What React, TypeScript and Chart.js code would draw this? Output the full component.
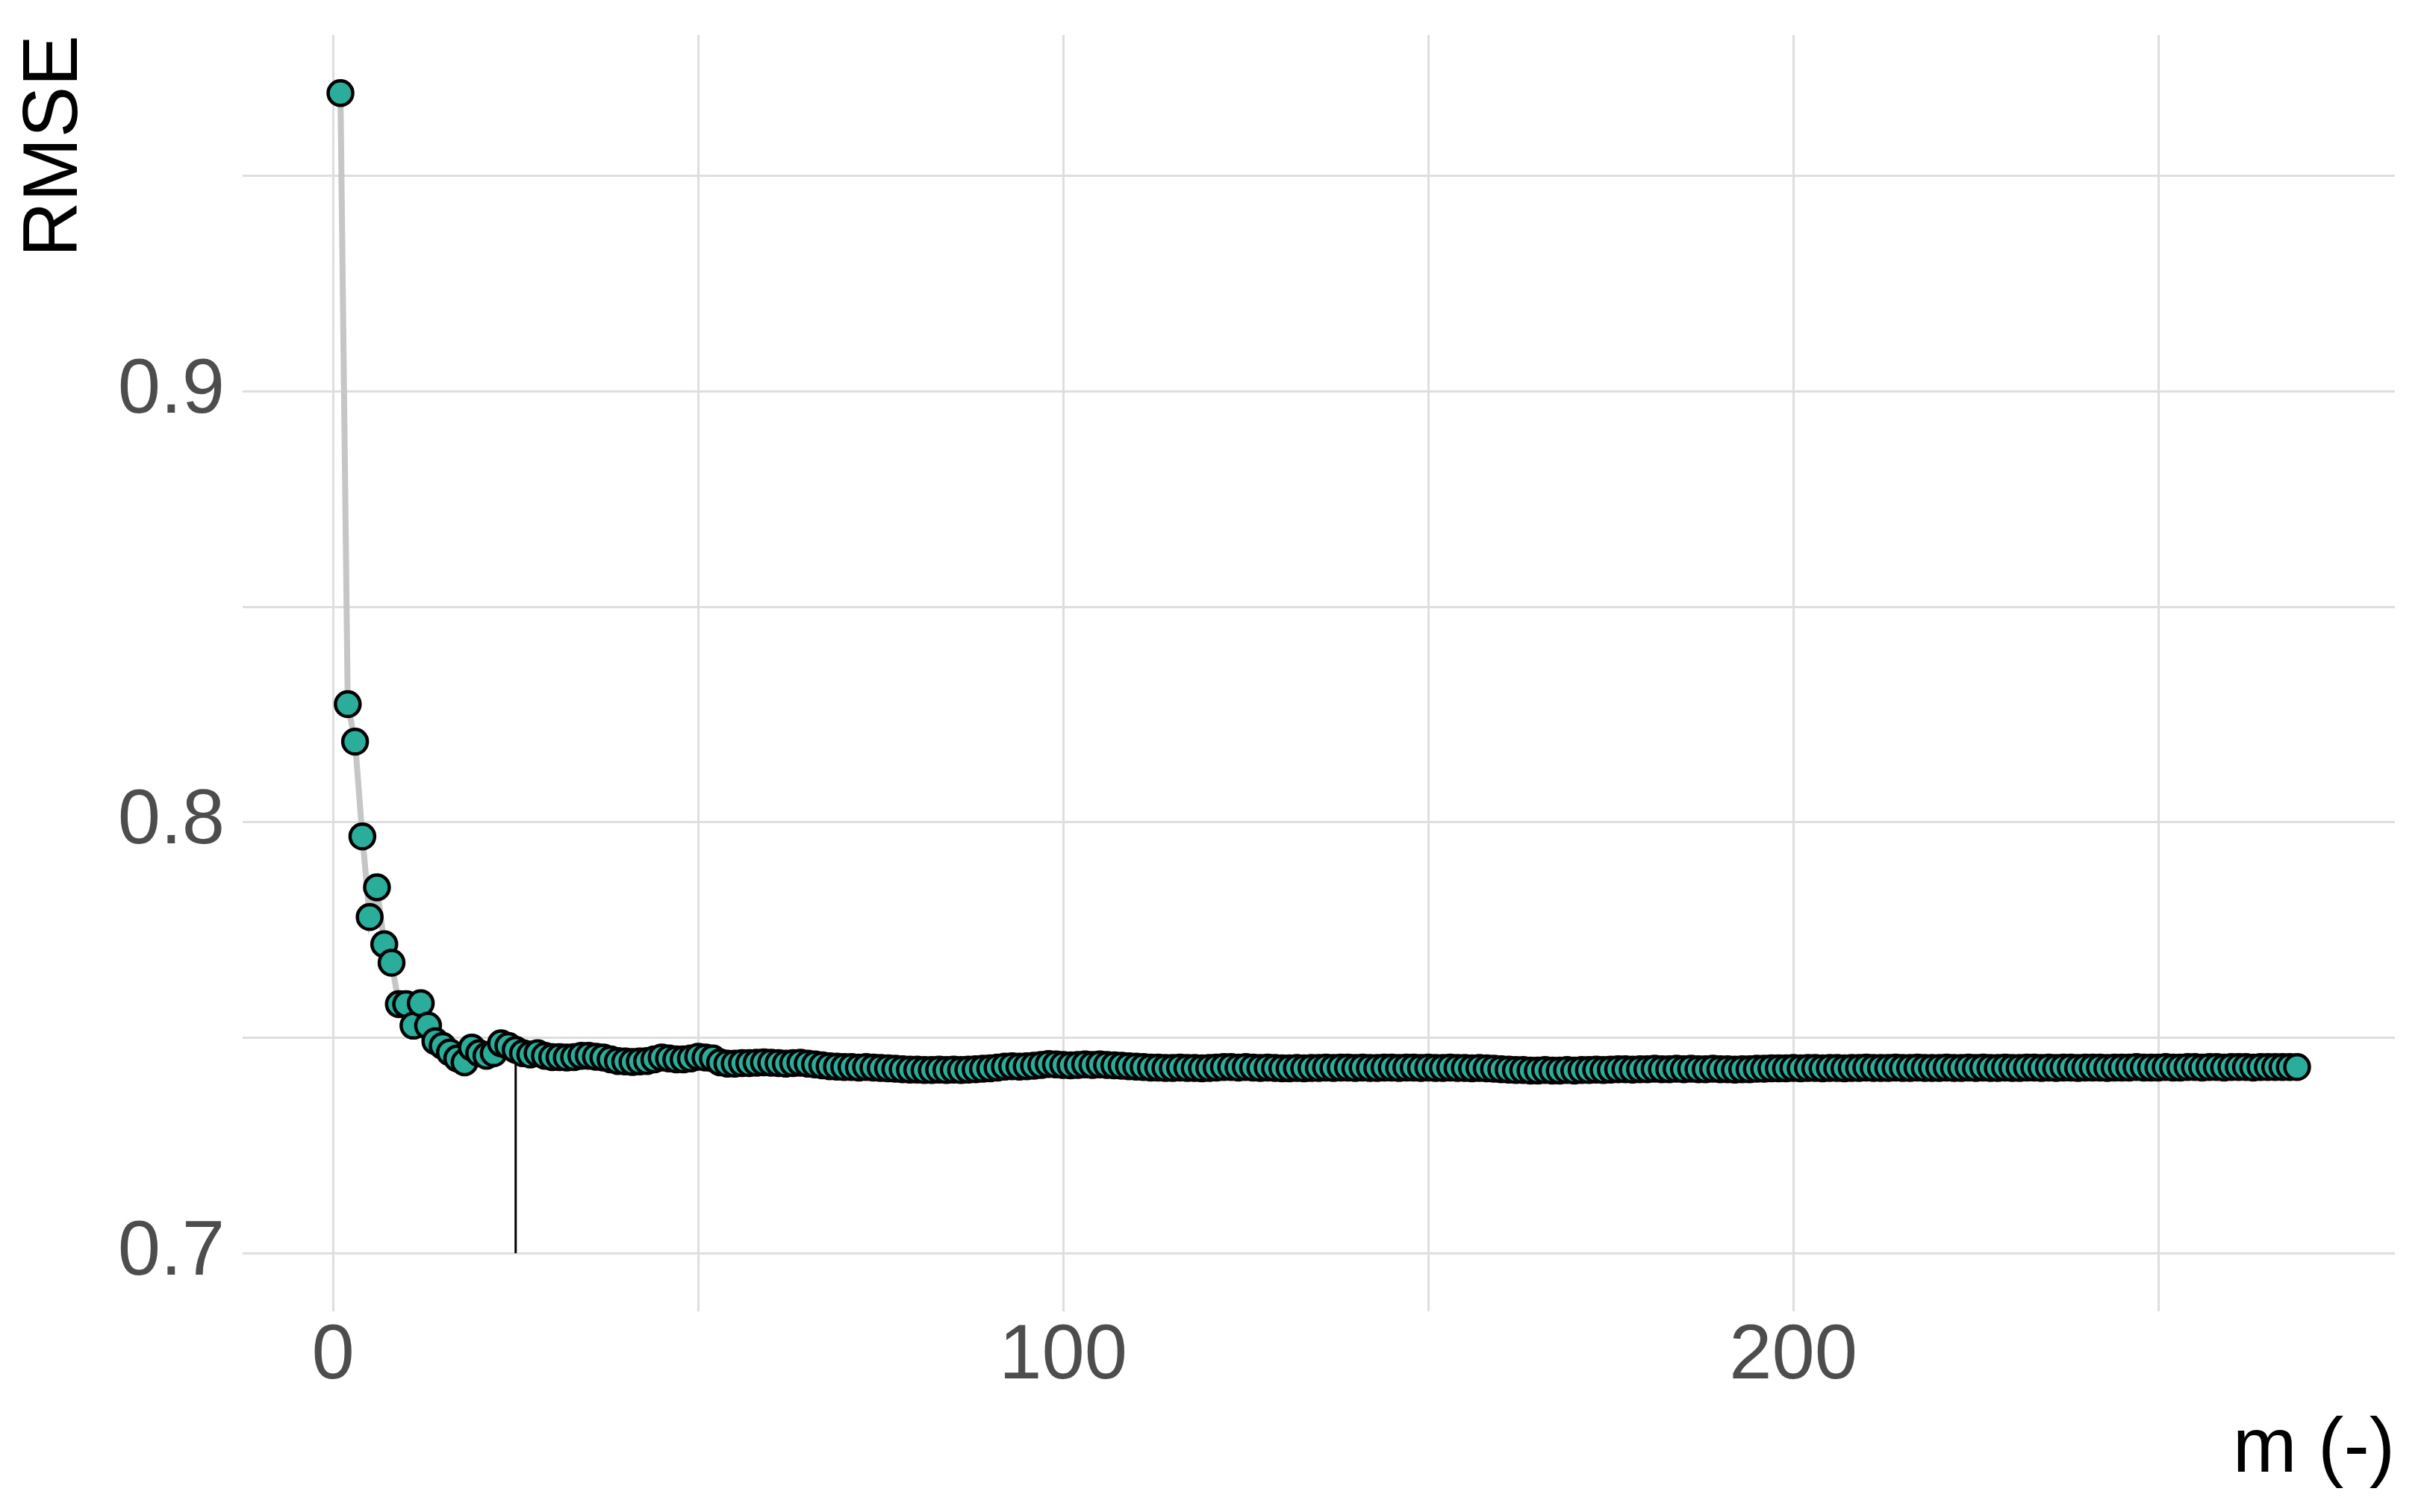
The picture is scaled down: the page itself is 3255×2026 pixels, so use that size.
import React, { useEffect, useRef } from 'react';
import { Chart, registerables } from 'chart.js';

Chart.register(...registerables);

// RMSE for m = 1 .. 269
const rmse: number[] = [
  0.9692, 0.8274, 0.8187, 0.7967, 0.7780, 0.7849, 0.7717, 0.7674, 0.7578, 0.7578,
  0.7528, 0.7580, 0.7528, 0.7492, 0.7481, 0.7466, 0.7452, 0.7443, 0.7477, 0.7464,
  0.7458, 0.7464, 0.7487, 0.7481, 0.7472, 0.7464, 0.7461, 0.7464, 0.7458, 0.7455,
  0.7455, 0.7454, 0.7455, 0.7458, 0.7458, 0.7456, 0.7454, 0.7450, 0.7446, 0.7445,
  0.7444, 0.7445, 0.7446, 0.7450, 0.7454, 0.7452, 0.7450, 0.7450, 0.7452, 0.7456,
  0.7454, 0.7452, 0.7443, 0.7440,
  0.7440, 0.7441, 0.7441, 0.7442, 0.7443, 0.7442, 0.7441, 0.7440, 0.7441, 0.7442,
  0.7440, 0.7438, 0.7436, 0.7434, 0.7433, 0.7432, 0.7432, 0.7431, 0.7432, 0.7431,
  0.7430, 0.7429, 0.7428, 0.7427, 0.7426, 0.7426, 0.7425, 0.7425, 0.7426, 0.7425,
  0.7426, 0.7425, 0.7426, 0.7427, 0.7428, 0.7429, 0.7431, 0.7433, 0.7434, 0.7433,
  0.7434, 0.7435, 0.7437, 0.7439, 0.7438, 0.7437, 0.7436, 0.7437, 0.7438, 0.7437,
  0.7438, 0.7437, 0.7436, 0.7435, 0.7434, 0.7433, 0.7432, 0.7431, 0.7431, 0.7430,
  0.7430, 0.7431, 0.7430, 0.7430, 0.7429, 0.7430, 0.7431, 0.7432, 0.7432, 0.7431,
  0.7432, 0.7431, 0.7430, 0.7431, 0.7430, 0.7429, 0.7429, 0.7430, 0.7429, 0.7430,
  0.7430, 0.7431, 0.7430, 0.7431, 0.7431, 0.7430, 0.7431, 0.7430, 0.7430, 0.7431,
  0.7431, 0.7430, 0.7431, 0.7431, 0.7430, 0.7431, 0.7430, 0.7430, 0.7431, 0.7430,
  0.7430, 0.7429, 0.7430, 0.7429, 0.7428, 0.7427, 0.7426, 0.7425, 0.7425, 0.7424,
  0.7424, 0.7425, 0.7424, 0.7424, 0.7425, 0.7424, 0.7425, 0.7425, 0.7426, 0.7425,
  0.7426, 0.7427, 0.7427, 0.7426, 0.7427, 0.7427, 0.7428, 0.7427, 0.7427, 0.7428,
  0.7427, 0.7428, 0.7427, 0.7427, 0.7428, 0.7427, 0.7427, 0.7426, 0.7427, 0.7427,
  0.7428, 0.7428, 0.7429, 0.7429, 0.7429, 0.7430, 0.7429, 0.7430, 0.7430, 0.7429,
  0.7430, 0.7430, 0.7429, 0.7430, 0.7430, 0.7431, 0.7430, 0.7430, 0.7430, 0.7431,
  0.7430, 0.7430, 0.7431, 0.7430, 0.7430, 0.7430, 0.7431, 0.7430, 0.7430, 0.7431,
  0.7430, 0.7431, 0.7430, 0.7430, 0.7431, 0.7430, 0.7430, 0.7431, 0.7431, 0.7430,
  0.7431, 0.7430, 0.7431, 0.7431, 0.7430, 0.7431, 0.7431, 0.7431, 0.7430, 0.7431,
  0.7431, 0.7431, 0.7432, 0.7431, 0.7431, 0.7431, 0.7432, 0.7431, 0.7431, 0.7432,
  0.7432, 0.7431, 0.7432, 0.7432, 0.7431, 0.7432, 0.7432, 0.7432, 0.7431, 0.7432,
  0.7432, 0.7432, 0.7432, 0.7432, 0.7432,
];

const optimalM = 25;
const markerBase = 0.7;

const xTickValues = [0, 100, 200];
const xTickLabels = ['0', '100', '200'];
const yTickValues = [0.7, 0.8, 0.9];
const yTickLabels = ['0.7', '0.8', '0.9'];

const xTitle = 'm (-)';
const yTitle = 'RMSE';

const W = 3255;
const H = 2026;
const FONT = 'Liberation Sans, Arial, sans-serif';

function labelFor(v: number, values: number[], labels: string[]): string {
  for (let i = 0; i < values.length; i++) {
    if (Math.abs(v - values[i]) < 1e-6) return labels[i];
  }
  return '';
}

export default function App() {
  const ref = useRef<HTMLCanvasElement>(null);

  useEffect(() => {
    document.body.style.margin = '0';
    const canvas = ref.current;
    if (!canvas) return;
    const points = rmse.map((v, i) => ({ x: i + 1, y: v }));
    const chart = new Chart(canvas, {
      type: 'line',
      data: {
        datasets: [
          {
            data: points,
            borderColor: '#c6c6c6',
            borderWidth: 8,
            pointRadius: 16.5,
            pointHoverRadius: 16.5,
            pointBorderWidth: 4.5,
            pointBackgroundColor: '#2aae9b',
            pointBorderColor: '#000000',
            tension: 0,
            order: 0,
          },
          {
            data: [
              { x: optimalM, y: markerBase },
              { x: optimalM, y: rmse[optimalM - 1] },
            ],
            borderColor: '#000000',
            borderWidth: 3,
            pointRadius: 0,
            pointHoverRadius: 0,
            order: 1,
          },
        ],
      },
      options: {
        animation: false,
        responsive: false,
        devicePixelRatio: 1,
        events: [],
        layout: { padding: { left: 0, top: 47, right: 47, bottom: 0 } },
        plugins: { legend: { display: false }, tooltip: { enabled: false } },
        scales: {
          x: {
            type: 'linear',
            min: -12.4,
            max: 282.4,
            afterFit: (s: any) => {
              s.height = 269;
              s.paddingLeft = 0;
              s.paddingRight = 0;
            },
            border: { display: false },
            grid: { color: '#dedede', lineWidth: 3, drawTicks: false },
            ticks: {
              stepSize: 50,
              includeBounds: false,
              autoSkip: false,
              maxRotation: 0,
              padding: 0,
              color: '#4d4d4d',
              font: { family: FONT, size: 103 },
              callback: (v: any) => labelFor(Number(v), xTickValues, xTickLabels),
            },
            title: {
              display: true,
              text: xTitle,
              align: 'end',
              color: '#000000',
              font: { family: FONT, size: 103 },
              padding: { top: 0, bottom: 21 },
            },
          },
          y: {
            type: 'linear',
            min: 0.68654,
            max: 0.98266,
            afterFit: (s: any) => {
              s.width = 325;
              s.paddingTop = 0;
              s.paddingBottom = 0;
            },
            border: { display: false },
            grid: { color: '#dedede', lineWidth: 3, drawTicks: false },
            ticks: {
              stepSize: 0.05,
              includeBounds: false,
              autoSkip: false,
              padding: 24,
              color: '#4d4d4d',
              font: { family: FONT, size: 103 },
              callback: (v: any) => labelFor(Number(v), yTickValues, yTickLabels),
            },
            title: {
              display: true,
              text: yTitle,
              align: 'end',
              color: '#000000',
              font: { family: FONT, size: 103 },
              padding: { top: 13, bottom: 0 },
            },
          },
        },
      },
    } as any);
    return () => chart.destroy();
  }, []);

  return (
    <div style={{ position: 'absolute', left: 0, top: 0, width: W, height: H, background: '#ffffff' }}>
      <canvas ref={ref} width={W} height={H} style={{ display: 'block', width: W, height: H }} />
    </div>
  );
}
